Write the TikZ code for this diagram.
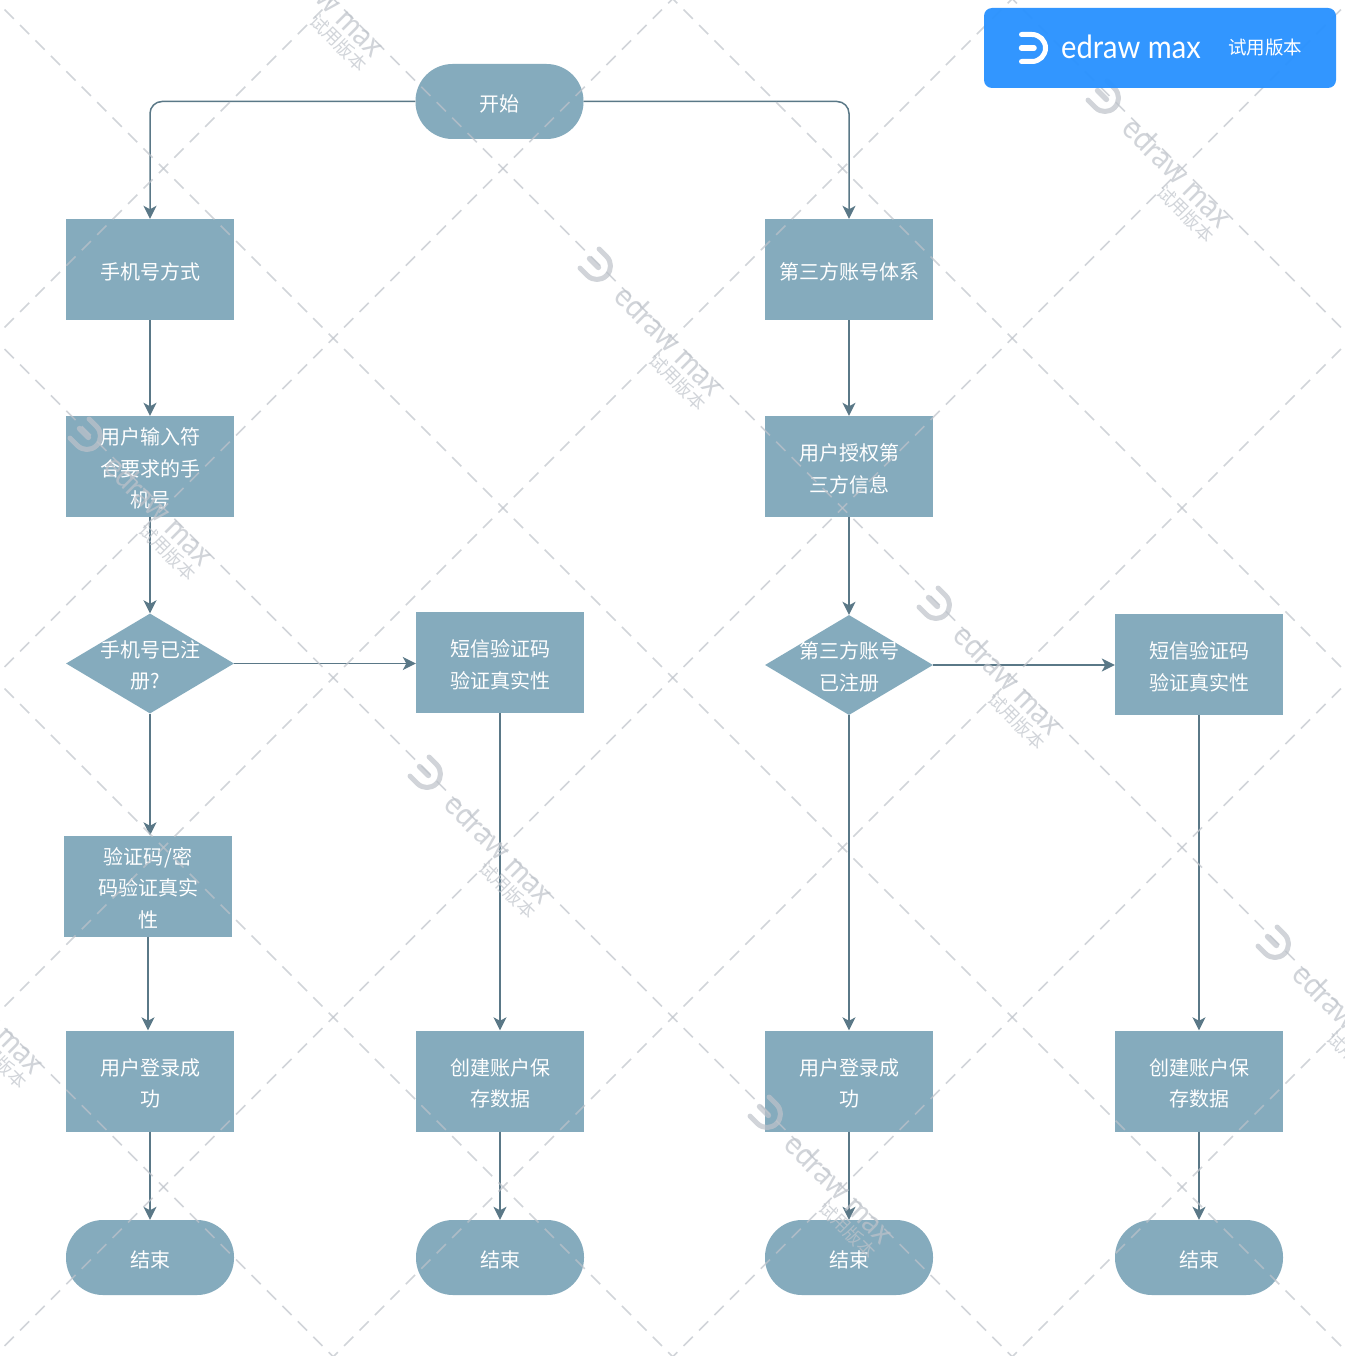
\documentclass[tikz,border=0pt]{standalone}
\usepackage{fontspec}
\setmainfont{Noto Sans CJK SC}
\newfontfamily\edfont[FakeStretch=0.91]{Lato}
\usetikzlibrary{arrows.meta,shapes.geometric}
\definecolor{nodefill}{HTML}{85ABBD}
\definecolor{linecol}{HTML}{5A7887}
\definecolor{wmcol}{RGB}{190,195,202}
\definecolor{bannerblue}{HTML}{2A92FF}
\newcommand{\tl}[1]{\raisebox{-3.5pt}[\height][\depth]{\begin{tabular}{@{}c@{}}#1\end{tabular}}}
\newcommand{\dtl}[1]{\makebox[0pt]{\smash{\raisebox{-8.5pt}{\begin{tabular}{@{}c@{}}#1\end{tabular}}}}}
\tikzset{
  x=1pt,y=-1pt,
  base/.style={fill=nodefill,draw=none,text=white,inner sep=0pt,
    font=\fontsize{20pt}{31.5pt}\selectfont,minimum width=168pt},
  procbox/.style={base,rectangle,minimum height=101pt},
  termbox/.style={base,rectangle,rounded corners=37pt,minimum height=75pt},
  decbox/.style={base,diamond,aspect=1.68,minimum width=168pt,minimum height=100pt},
  conn/.style={draw=linecol,line width=1.5pt,-{Stealth[length=13pt,width=13pt,inset=3.5pt]}},
  wmline/.style={draw=wmcol,opacity=.7,line width=1.5pt,dash pattern=on 13pt off 8.825pt,dash phase=6.5pt},
  logostroke/.style={line cap=round,line join=round,line width=#1},
}
\newcommand{\edlogo}[1]{%
  \draw[logostroke=5pt,draw=#1] (-10.5,-13.5) -- (0,-13.5) arc[start angle=90,end angle=-90,radius=13.5pt] -- (-10.5,13.5);
  \draw[logostroke=5.5pt,draw=#1] (-10.5,0) -- (2,0);
}
\newcommand{\wmark}[2]{%
  \begin{scope}[shift={(#1,#2)},rotate=-45,opacity=.7]
    \begin{scope}[shift={(2.1,-.7)}]\edlogo{wmcol}\end{scope}
    \node[text=wmcol,font=\edfont\fontsize{32pt}{32pt}\selectfont,rotate=-45,inner sep=0pt] (wm#1) at (106,0) {edraw max};
    \node[text=wmcol,font=\fontsize{18pt}{18pt}\selectfont,rotate=-45,inner sep=0pt] (ws#1) at (141,24) {试用版本};
  \end{scope}%
}
\begin{document}
\begin{tikzpicture}
\useasboundingbox (0,0) rectangle (1344,1356);
\fill[white] (0,0) rectangle (1344,1356);
% nodes
\node[termbox] (start) at (499.5,101.5) {\tl{开始}};
\node[procbox] (a1) at (150,269.5) {\tl{手机号方式}};
\node[procbox] (a2) at (150,466.5) {\tl{用户输入符\\合要求的手\\机号}};
\node[decbox]  (a3) at (150,663.5) {\dtl{手机号已注\\册?\hspace*{10pt}}};
\node[procbox] (a4) at (148,886) {\tl{验证码\kern1pt/\kern1pt密\\码验证真实\\性}};
\node[procbox] (a5) at (150,1081) {\tl{用户登录成\\功}};
\node[termbox] (a6) at (150,1257.5) {\tl{结束}};
\node[procbox] (b3) at (500,662.5) {\tl{短信验证码\\验证真实性}};
\node[procbox] (b5) at (500,1081) {\tl{创建账户保\\存数据}};
\node[termbox] (b6) at (500,1257.5) {\tl{结束}};
\node[procbox] (c1) at (849,269.5) {\tl{第三方账号体系}};
\node[procbox] (c2) at (849,466.5) {\tl{用户授权第\\三方信息}};
\node[decbox]  (c3) at (849,665) {\dtl{第三方账号\\已注册}};
\node[procbox] (c5) at (849,1081) {\tl{用户登录成\\功}};
\node[termbox] (c6) at (849,1257.5) {\tl{结束}};
\node[procbox] (d3) at (1199,664.5) {\tl{短信验证码\\验证真实性}};
\node[procbox] (d5) at (1199,1081) {\tl{创建账户保\\存数据}};
\node[termbox] (d6) at (1199,1257.5) {\tl{结束}};
% connectors
\draw[conn,rounded corners=12pt] (start.west) -| (a1.north);
\draw[conn,rounded corners=12pt] (start.east) -| (c1.north);
\draw[conn] (a1) -- (a2);
\draw[conn] (a2) -- (a3);
\draw[conn] (a3.south) -- (a3.south |- a4.north);
\draw[conn] (a3) -- (b3.west |- a3);
\draw[conn] (a4.south) -- (a4.south |- a5.north);
\draw[conn] (a5) -- (a6);
\draw[conn] (b3) -- (b5);
\draw[conn] (b5) -- (b6);
\draw[conn] (c1) -- (c2);
\draw[conn] (c2) -- (c3);
\draw[conn] (c3) -- (c5);
\draw[conn] (c3) -- (d3.west |- c3);
\draw[conn] (c5) -- (c6);
\draw[conn] (d3) -- (d5);
\draw[conn] (d5) -- (d6);
% watermark
\begin{scope}
\clip (0,0) rectangle (1344,1356);
\foreach \c in {332,671.5,1011,1350.5,1690,2029.5,2369,2708.5}
  \draw[wmline] ({(\c-1363)/2},{(\c+1363)/2}) -- ({(\c+1353)/2},{(\c-1353)/2});
\foreach \d in {-1363,-1023.5,-684,-344.5,-5,334.5,674,1013.5,1353}
  \draw[wmline] ({(-7.5+\d)/2},{(-7.5-\d)/2}) -- ({(2708.5+\d)/2},{(2708.5-\d)/2});
\wmark{256}{-74}
\wmark{1103}{97}
\wmark{595}{265}
\wmark{85}{435}
\wmark{934}{604}
\wmark{425}{773}
\wmark{-84}{943}
\wmark{1273}{943}
\wmark{765}{1113}
\end{scope}
% banner
\node[fill=bannerblue,fill opacity=.96,rectangle,rounded corners=8pt,minimum width=352pt,minimum height=80pt,inner sep=0pt] (banner) at (1160,48) {};
\begin{scope}[shift={(1032,48)}]
\edlogo{white}
\end{scope}
\node[text=white,font=\edfont\fontsize{32pt}{32pt}\selectfont,inner sep=0pt] (bt) at (1131,47) {edraw max};
\node[text=white,font=\fontsize{18.5pt}{18.5pt}\selectfont,inner sep=0pt] (bs) at (1265,48) {试用版本};
\end{tikzpicture}
\end{document}
